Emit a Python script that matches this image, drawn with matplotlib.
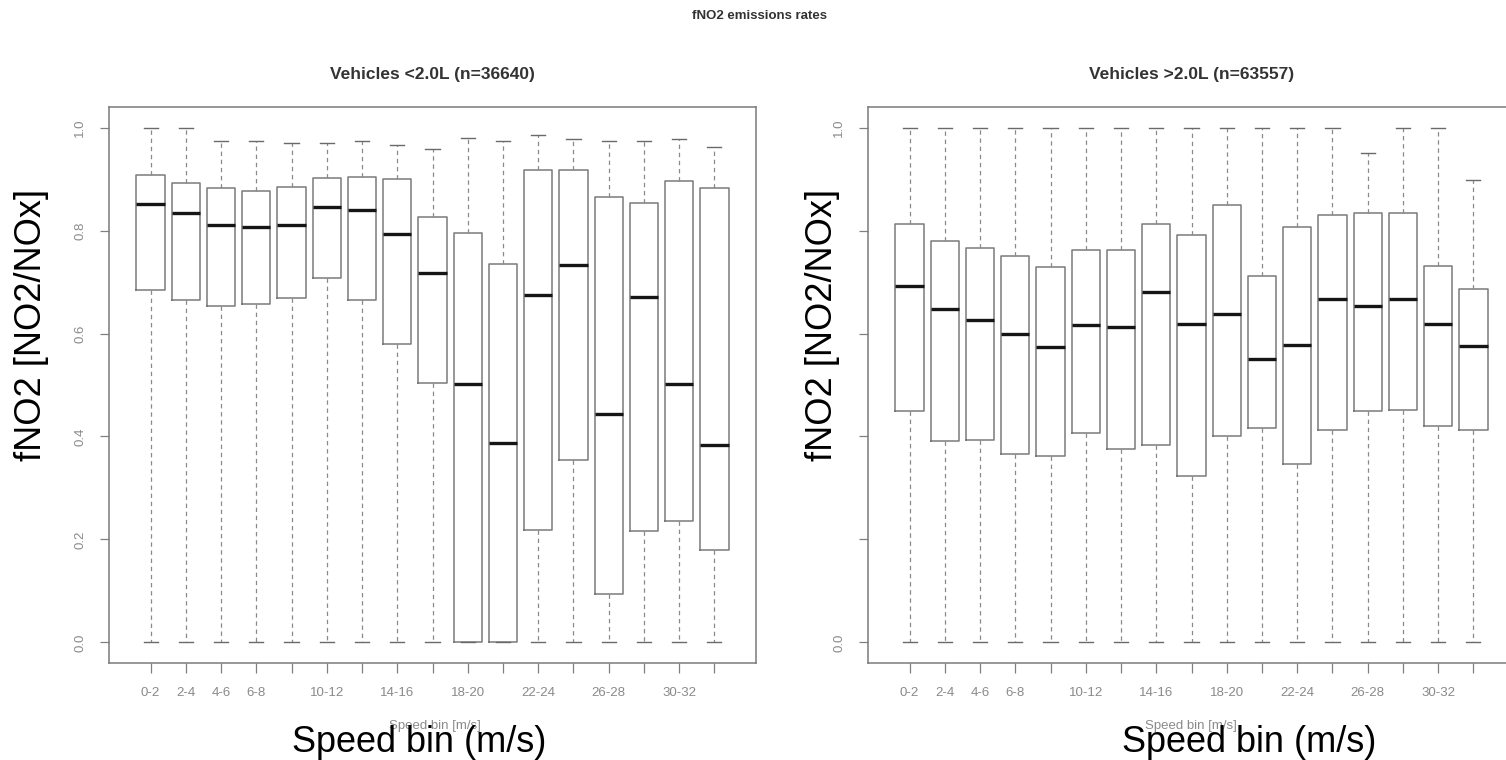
import matplotlib
matplotlib.use("Agg")
import matplotlib.pyplot as plt
from matplotlib import font_manager

# ---------------- data ----------------
speed_bins = ["0-2", "2-4", "4-6", "6-8", "8-10", "10-12", "12-14", "14-16", "16-18",
              "18-20", "20-22", "22-24", "24-26", "26-28", "28-30", "30-32", "32-34"]
shown_labels = ["0-2", "2-4", "4-6", "6-8", "", "10-12", "", "14-16", "",
                "18-20", "", "22-24", "", "26-28", "", "30-32", ""]

# Vehicles < 2.0L
small_whishi = [1.000, 1.000, 0.973, 0.973, 0.971, 0.971, 0.973, 0.966, 0.959,
                0.979, 0.974, 0.985, 0.978, 0.973, 0.973, 0.978, 0.962]
small_q3 = [0.907, 0.893, 0.882, 0.877, 0.885, 0.902, 0.904, 0.900, 0.827,
            0.795, 0.735, 0.917, 0.917, 0.866, 0.853, 0.897, 0.882]
small_med = [0.852, 0.834, 0.810, 0.807, 0.811, 0.845, 0.839, 0.794, 0.717,
             0.501, 0.388, 0.674, 0.734, 0.444, 0.671, 0.502, 0.383]
small_q1 = [0.685, 0.665, 0.653, 0.658, 0.669, 0.707, 0.665, 0.580, 0.504,
            0.000, 0.000, 0.219, 0.355, 0.095, 0.216, 0.236, 0.179]
small_whislo = [0.0] * 17

# Vehicles > 2.0L
large_whishi = [1.000, 1.000, 1.000, 1.000, 1.000, 1.000, 1.000, 1.000, 1.000,
                1.000, 1.000, 1.000, 1.000, 0.951, 1.000, 1.000, 0.898]
large_q3 = [0.813, 0.779, 0.766, 0.751, 0.729, 0.763, 0.763, 0.812, 0.791,
            0.849, 0.711, 0.807, 0.830, 0.834, 0.834, 0.732, 0.687]
large_med = [0.693, 0.647, 0.626, 0.600, 0.573, 0.617, 0.612, 0.680, 0.619,
             0.637, 0.551, 0.577, 0.667, 0.653, 0.667, 0.619, 0.575]
large_q1 = [0.450, 0.391, 0.394, 0.366, 0.362, 0.406, 0.375, 0.383, 0.323,
            0.401, 0.416, 0.347, 0.413, 0.449, 0.451, 0.421, 0.413]
large_whislo = [0.0] * 17

y_ticks = [0.0, 0.2, 0.4, 0.6, 0.8, 1.0]
left_ytick_labels = ["0.0", "0.2", "0.4", "0.6", "0.8", "1.0"]
right_ytick_labels = ["0.0", "", "", "", "", "1.0"]

main_title = "fNO2 emissions rates"
left_title = "Vehicles <2.0L (n=36640)"
right_title = "Vehicles >2.0L (n=63557)"
orig_xlabel = "Speed bin [m/s]"
big_ylabel = "fNO2 [NO2/NOx]"
big_xlabel = "Speed bin (m/s)"


def pick_font(cands):
    for c in cands:
        try:
            font_manager.findfont(c, fallback_to_default=False)
            return c
        except Exception:
            continue
    return "DejaVu Sans"


arial = pick_font(["Liberation Sans", "Arimo", "DejaVu Sans"])

W, H = 1506, 760
fig = plt.figure(figsize=(W / 100, H / 100), dpi=100)
fig.patch.set_facecolor("white")

top_px, bottom_px, width_px = 107, 663, 647
tick_col = "#8a8a8a"


def make_axes(x0):
    return fig.add_axes([x0 / W, (H - bottom_px) / H, width_px / W, (bottom_px - top_px) / H])


def draw(ax, whislo, q1, med, q3, whishi, ylabels, title):
    stats = []
    for i in range(len(speed_bins)):
        stats.append(dict(whislo=whislo[i], q1=q1[i], med=med[i], q3=q3[i],
                          whishi=whishi[i], fliers=[], label=speed_bins[i]))
    pos = list(range(1, len(speed_bins) + 1))
    ax.bxp(stats, positions=pos, widths=0.8, capwidths=0.4, showfliers=False,
           boxprops=dict(color="#7a7a7a", linewidth=1.1),
           medianprops=dict(color="#151515", linewidth=2.4, solid_capstyle="butt"),
           whiskerprops=dict(color="#8a8a8a", linewidth=0.9, linestyle=(0, (3.5, 3))),
           capprops=dict(color="#6a6a6a", linewidth=1.0))
    ax.set_xlim(0.5 - 0.04 * 17, 17.5 + 0.04 * 17)
    ax.set_ylim(-0.04, 1.04)
    ax.set_xticks(pos)
    ax.set_xticklabels(shown_labels, fontsize=9.5, color=tick_col, family=arial)
    ax.set_yticks(y_ticks)
    ax.set_yticklabels(ylabels, fontsize=9.5, color=tick_col, family=arial,
                       rotation=90, va="center")
    ax.tick_params(axis="x", direction="out", length=7, width=0.9, color="#808080", pad=10.5)
    ax.tick_params(axis="y", direction="out", length=6.5, width=0.9, color="#808080", pad=10)
    for s in ax.spines.values():
        s.set_color("#7a7a7a")
        s.set_linewidth(1.1)
    ax.set_title(title, fontsize=12.5, fontweight="bold", color="#333333", family=arial, pad=20)


axL = make_axes(109)
draw(axL, small_whislo, small_q1, small_med, small_q3, small_whishi, left_ytick_labels, left_title)
axR = make_axes(868)
draw(axR, large_whislo, large_q1, large_med, large_q3, large_whishi, right_ytick_labels, right_title)

fig.text(760 / W, 1 - 16 / H, main_title, ha="center", va="center", fontsize=9.5,
         fontweight="bold", color="#333333", family=arial)

# original (small) axis labels of the plot
fig.text(435 / W, 1 - 726 / H, orig_xlabel, ha="center", va="center", fontsize=9.5,
         color="#8a8a8a", family=arial)
fig.text(1191 / W, 1 - 726 / H, orig_xlabel, ha="center", va="center", fontsize=9.5,
         color="#8a8a8a", family=arial)

# large overlaid labels
fig.text(419 / W, 1 - 752 / H, big_xlabel, ha="center", va="baseline", fontsize=26,
         color="black", family=arial)
fig.text(1249 / W, 1 - 752 / H, big_xlabel, ha="center", va="baseline", fontsize=26,
         color="black", family=arial)
fig.text(32 / W, 1 - 325 / H, big_ylabel, ha="center", va="center", rotation=90,
         fontsize=26, color="black", family=arial)
fig.text(823 / W, 1 - 325 / H, big_ylabel, ha="center", va="center", rotation=90,
         fontsize=26, color="black", family=arial)

fig.savefig("out.png", dpi=100)
